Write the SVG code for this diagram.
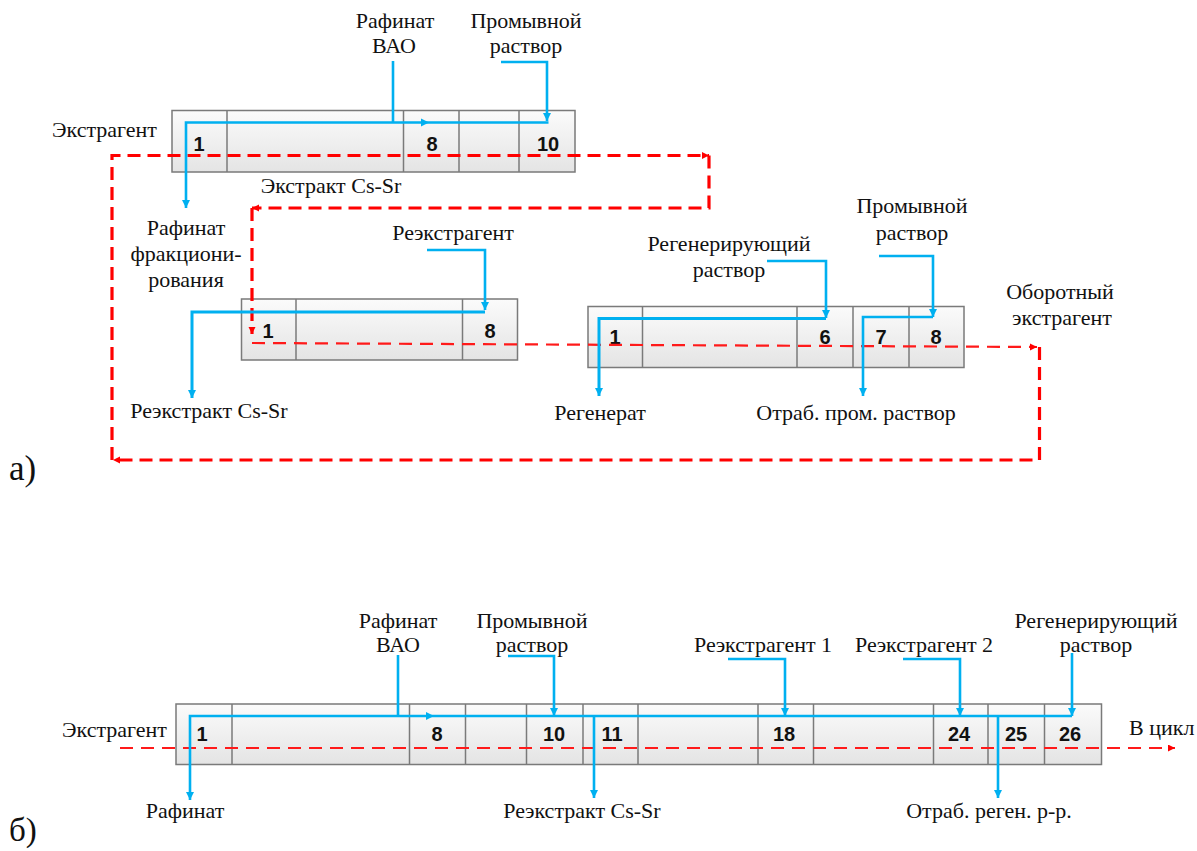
<svg xmlns="http://www.w3.org/2000/svg" width="1197" height="851" viewBox="0 0 1197 851">
<style>
.t{font-family:"Liberation Serif","Times New Roman",serif;font-size:22px;fill:#111}
.m{text-anchor:middle}
.n{font-family:"Liberation Sans",Arial,sans-serif;font-size:20px;font-weight:bold;fill:#111;text-anchor:middle}
.box{fill:url(#g);stroke:#7a7a7a;stroke-width:1.5}
.div{stroke:#7a7a7a;stroke-width:1.5}
.b{fill:none;stroke:#00b0f0;stroke-width:2.6}
.bm{marker-end:url(#ba)}
.r{fill:none;stroke:#ff0000;stroke-width:3.2;stroke-dasharray:13 7}
.rt{fill:none;stroke:#ff1a1a;stroke-width:2.2;stroke-dasharray:13 8}
.rm{marker-end:url(#ra)}
</style>
<defs>
<linearGradient id="g" x1="0" y1="0" x2="0" y2="1">
<stop offset="0" stop-color="#fbfbfb"/>
<stop offset="1" stop-color="#e4e4e4"/>
</linearGradient>
<marker id="ba" markerUnits="userSpaceOnUse" markerWidth="10" markerHeight="10" refX="8" refY="4" orient="auto">
<path d="M0,0 L8,4 L0,8 z" fill="#00b0f0"/>
</marker>
<marker id="ra" markerUnits="userSpaceOnUse" markerWidth="10" markerHeight="10" refX="7" refY="3.5" orient="auto">
<path d="M0,0 L7,3.5 L0,7 z" fill="#ff0000"/>
</marker>
</defs>

<g id="box-a1">
<rect class="box" x="172" y="110.5" width="403" height="61.5"/>
<line class="div" x1="227" y1="110.5" x2="227" y2="172"/>
<line class="div" x1="403.5" y1="110.5" x2="403.5" y2="172"/>
<line class="div" x1="459" y1="110.5" x2="459" y2="172"/>
<line class="div" x1="519" y1="110.5" x2="519" y2="172"/>
<text class="n" x="199" y="151">1</text>
<text class="n" x="432" y="151">8</text>
<text class="n" x="548" y="151">10</text>
</g>

<g id="box-a2">
<rect class="box" x="241.5" y="299" width="276" height="61"/>
<line class="div" x1="296" y1="299" x2="296" y2="360"/>
<line class="div" x1="462.5" y1="299" x2="462.5" y2="360"/>
<text class="n" x="268" y="338">1</text>
<text class="n" x="490" y="338">8</text>
</g>

<g id="box-a3">
<rect class="box" x="588" y="306.5" width="376" height="61"/>
<line class="div" x1="642.5" y1="306.5" x2="642.5" y2="367.5"/>
<line class="div" x1="797" y1="306.5" x2="797" y2="367.5"/>
<line class="div" x1="853" y1="306.5" x2="853" y2="367.5"/>
<line class="div" x1="909" y1="306.5" x2="909" y2="367.5"/>
<text class="n" x="615" y="344">1</text>
<text class="n" x="825" y="344">6</text>
<text class="n" x="881" y="344">7</text>
<text class="n" x="936" y="344">8</text>
</g>

<g id="box-b">
<rect class="box" x="176" y="704" width="925.5" height="60.5"/>
<line class="div" x1="232" y1="704" x2="232" y2="764.5"/>
<line class="div" x1="409.5" y1="704" x2="409.5" y2="764.5"/>
<line class="div" x1="465.5" y1="704" x2="465.5" y2="764.5"/>
<line class="div" x1="526.5" y1="704" x2="526.5" y2="764.5"/>
<line class="div" x1="583" y1="704" x2="583" y2="764.5"/>
<line class="div" x1="638" y1="704" x2="638" y2="764.5"/>
<line class="div" x1="758" y1="704" x2="758" y2="764.5"/>
<line class="div" x1="813.5" y1="704" x2="813.5" y2="764.5"/>
<line class="div" x1="933.5" y1="704" x2="933.5" y2="764.5"/>
<line class="div" x1="988" y1="704" x2="988" y2="764.5"/>
<line class="div" x1="1044.5" y1="704" x2="1044.5" y2="764.5"/>
<text class="n" x="202" y="741">1</text>
<text class="n" x="437" y="741">8</text>
<text class="n" x="554" y="741">10</text>
<text class="n" x="612" y="741">11</text>
<text class="n" x="784" y="741">18</text>
<text class="n" x="959" y="741">24</text>
<text class="n" x="1016" y="741">25</text>
<text class="n" x="1070" y="741">26</text>
</g>

<g id="connectors">
<path class="r rm" d="M112,460 V155.5 H709"/>
<path class="r rm" d="M709,155.5 V208 H252"/>
<path class="r rm" d="M252,208 V334"/>
<path class="rt rm" d="M252,343 L1037,347"/>
<path class="r rm" d="M1039.5,347 V460 H113"/>
<path class="b" d="M393,61 V122.5"/>
<path class="b bm" d="M548.5,122.5 H186 V208"/>
<path d="M421,118.5 L429,122.5 L421,126.5 z" fill="#00b0f0"/>
<path class="b bm" d="M501,62 H547 V121"/>
<path class="b bm" d="M427,250 H485 V310"/>
<path class="b bm" d="M485,312 H192 V398" style="stroke-width:3"/>
<path class="b bm" d="M767,261 H826 V318"/>
<path class="b bm" d="M826,318.5 H599 V396" style="stroke-width:3"/>
<path class="b bm" d="M879,256 H933 V317"/>
<path class="b bm" d="M933,317 H863 V396"/>
<path class="rt rm" d="M120,748 H1175"/>
<path class="b" d="M398,655 V716"/>
<path class="b bm" d="M1072,716 H190 V800"/>
<path d="M426,712 L434,716 L426,720 z" fill="#00b0f0"/>
<path class="b bm" d="M508,656 H554 V716"/>
<path class="b bm" d="M594,716 V798"/>
<path class="b bm" d="M728,659 H785 V716"/>
<path class="b bm" d="M903,659 H960 V716"/>
<path class="b bm" d="M1072,653 V716"/>
<path class="b bm" d="M998,716 V798"/>
</g>

<g id="labels-a">
<text class="t m" x="395" y="28">Рафинат</text>
<text class="t m" x="394" y="53">ВАО</text>
<text class="t m" x="526" y="28">Промывной</text>
<text class="t m" x="526" y="53">раствор</text>
<text class="t" x="52" y="137">Экстрагент</text>
<text class="t m" x="331" y="193">Экстракт Cs-Sr</text>
<text class="t m" x="186" y="235">Рафинат</text>
<text class="t m" x="186" y="261">фракциони-</text>
<text class="t m" x="186" y="287">рования</text>
<text class="t m" x="453" y="240">Реэкстрагент</text>
<text class="t m" x="209" y="418">Реэкстракт Cs-Sr</text>
<text class="t m" x="729" y="251">Регенерирующий</text>
<text class="t m" x="729" y="277">раствор</text>
<text class="t m" x="912" y="213">Промывной</text>
<text class="t m" x="912" y="240">раствор</text>
<text class="t m" x="1060" y="299">Оборотный</text>
<text class="t m" x="1062" y="325">экстрагент</text>
<text class="t m" x="600" y="420">Регенерат</text>
<text class="t m" x="856" y="420">Отраб. пром. раствор</text>
<text class="t" x="9" y="480" style="font-size:35px">а)</text>
</g>

<g id="labels-b">
<text class="t m" x="398" y="628">Рафинат</text>
<text class="t m" x="398" y="652">ВАО</text>
<text class="t m" x="532" y="628">Промывной</text>
<text class="t m" x="532" y="652">раствор</text>
<text class="t m" x="763" y="652">Реэкстрагент 1</text>
<text class="t m" x="924" y="652">Реэкстрагент 2</text>
<text class="t m" x="1096" y="628">Регенерирующий</text>
<text class="t m" x="1096" y="652">раствор</text>
<text class="t" x="62" y="737">Экстрагент</text>
<text class="t" x="1129" y="735">В цикл</text>
<text class="t m" x="185" y="818">Рафинат</text>
<text class="t m" x="582" y="818">Реэкстракт Cs-Sr</text>
<text class="t m" x="989" y="818">Отраб. реген. р-р.</text>
<text class="t" x="9" y="841" style="font-size:33px">б)</text>
</g>
</svg>
